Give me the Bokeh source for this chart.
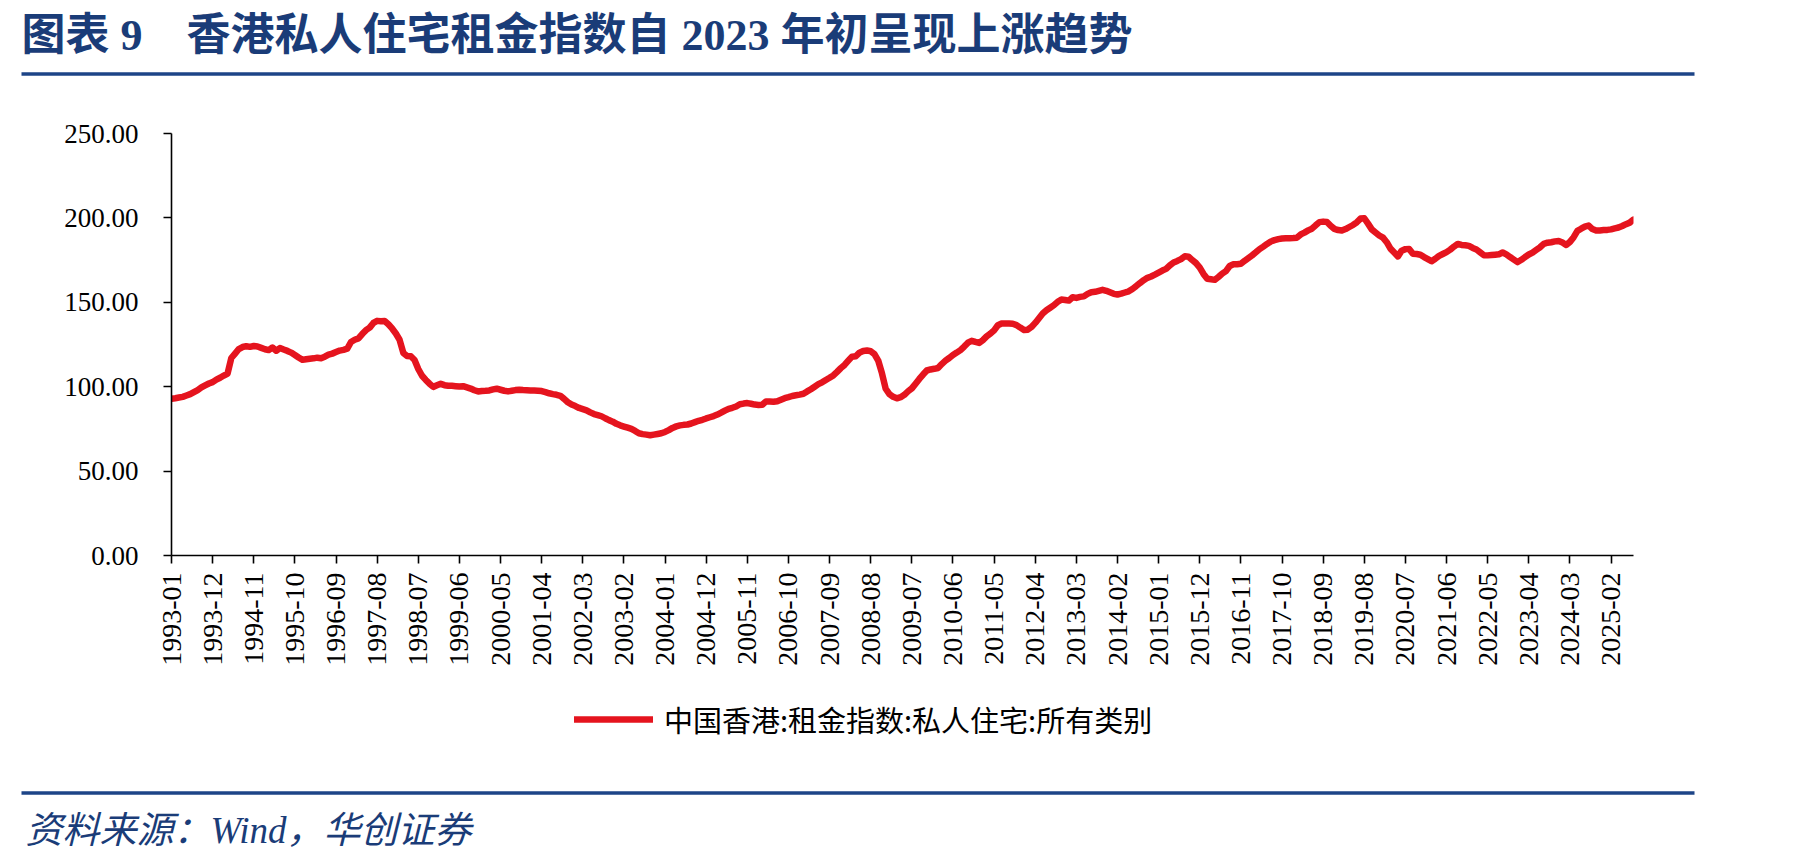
import math
from bokeh.plotting import figure
from bokeh.layouts import column
from bokeh.models import (Range1d, FixedTicker, Legend, LegendItem,
                          PrintfTickFormatter, ColumnDataSource)
from bokeh.core.properties import value
from bokeh.embed import file_html
from bokeh.resources import INLINE

# ---------------- data ----------------
months = [f"{y}-{m:02d}" for y in range(1993, 2026) for m in range(1, 13)][:392]

rent_index = [
    # 1993
    92.9, 93.2, 93.6, 94.0, 94.8, 95.6, 96.8, 98.0, 99.6, 100.8, 101.9, 102.7,
    # 1994
    104.2, 105.3, 106.6, 107.8, 117.0, 119.6, 122.3, 123.5, 124.0, 123.6, 124.1, 123.8,
    # 1995
    123.0, 122.2, 121.7, 123.2, 121.3, 122.9, 122.0, 121.2, 120.2, 118.8, 117.3, 115.9,
    # 1996
    116.3, 116.6, 116.8, 117.2, 116.9, 117.8, 119.0, 119.6, 120.5, 121.4, 121.8, 122.5,
    # 1997
    126.5, 127.8, 128.6, 131.2, 133.5, 135.0, 137.8, 139.0, 138.8, 138.9, 137.0, 134.5,
    # 1998
    131.5, 127.8, 120.0, 118.2, 118.0, 115.8, 110.5, 106.5, 104.0, 101.8, 99.9, 100.8,
    # 1999
    101.7, 100.9, 100.6, 100.5, 100.3, 100.1, 100.3, 99.6, 98.9, 97.9, 97.2, 97.5,
    # 2000
    97.6, 97.8, 98.4, 98.8, 98.2, 97.6, 97.2, 97.6, 98.0, 98.2, 98.0, 97.9,
    # 2001
    97.8, 97.7, 97.6, 97.4, 96.8, 96.1, 95.6, 95.2, 94.6, 92.8, 90.8, 89.4,
    # 2002
    88.5, 87.4, 86.7, 86.0, 84.8, 83.8, 83.2, 82.5, 81.3, 80.2, 79.3, 78.0,
    # 2003
    77.1, 76.4, 75.7, 75.0, 73.8, 72.4, 71.9, 71.6, 71.2, 71.6, 72.0, 72.4,
    # 2004
    73.2, 74.3, 75.6, 76.5, 77.1, 77.4, 77.6, 78.2, 79.0, 79.8, 80.4, 81.2,
    # 2005
    81.9, 82.6, 83.5, 84.6, 85.8, 86.9, 87.5, 88.3, 89.6, 90.0, 90.3, 89.9,
    # 2006
    89.4, 89.2, 89.3, 91.3, 91.2, 91.1, 91.4, 92.3, 93.2, 93.8, 94.5, 94.9,
    # 2007
    95.3, 95.8, 97.2, 98.5, 100.0, 101.5, 102.6, 104.0, 105.3, 106.7, 108.8, 111.0,
    # 2008
    112.9, 115.4, 117.8, 118.0, 120.2, 121.2, 121.5, 121.0, 119.3, 115.5, 108.0, 98.8,
    # 2009
    95.6, 94.0, 93.1, 93.8, 95.2, 97.3, 99.0, 101.8, 104.6, 107.2, 109.6, 110.2,
    # 2010
    110.6, 111.1, 113.4, 115.4, 117.0, 118.8, 120.2, 121.7, 123.8, 126.1, 127.2, 126.5,
    # 2011
    125.9, 127.6, 129.8, 131.4, 133.4, 136.4, 137.4, 137.5, 137.4, 137.3, 136.5, 135.0,
    # 2012
    133.6, 133.8, 135.4, 137.8, 140.6, 143.4, 145.3, 146.8, 148.3, 150.3, 151.6, 151.4,
    # 2013
    151.0, 153.0, 152.6, 153.2, 153.5, 155.0, 156.0, 156.2, 156.8, 157.4, 156.8, 155.9,
    # 2014
    155.0, 154.6, 155.1, 155.8, 156.5, 157.9, 159.6, 161.4, 163.1, 164.5, 165.3, 166.4,
    # 2015
    167.6, 168.8, 169.8, 171.9, 173.6, 174.5, 175.6, 177.3, 177.0, 175.0, 173.2, 170.6,
    # 2016
    166.8, 163.9, 163.6, 163.3, 165.0, 167.0, 168.5, 171.5, 172.5, 172.6, 172.8, 174.6,
    # 2017
    176.2, 177.8, 179.6, 181.5, 183.0, 184.6, 186.0, 186.8, 187.4, 187.8, 187.9, 188.0,
    # 2018
    188.1, 188.3, 190.2, 191.3, 192.6, 193.6, 195.6, 197.5, 197.8, 197.6, 195.3, 193.5,
    # 2019
    192.8, 192.5, 193.4, 194.6, 195.8, 197.4, 199.6, 199.8, 196.6, 193.2, 191.4, 189.6,
    # 2020
    188.3, 185.6, 181.8, 179.5, 177.2, 180.6, 181.5, 181.6, 178.8, 178.6, 178.2, 176.8,
    # 2021
    175.6, 174.3, 175.8, 177.5, 178.6, 179.7, 181.2, 183.0, 184.6, 184.0, 183.8, 183.4,
    # 2022
    182.2, 181.3, 179.6, 177.9, 177.8, 178.0, 178.2, 178.4, 179.5, 178.4, 176.8, 175.3,
    # 2023
    173.8, 175.2, 176.8, 178.3, 179.4, 181.0, 182.6, 184.6, 185.3, 185.6, 186.1, 186.3,
    # 2024
    185.4, 184.0, 185.8, 188.6, 192.3, 193.6, 194.8, 195.5, 193.4, 192.5, 192.6, 192.8,
    # 2025
    192.9, 193.2, 193.8, 194.3, 195.2, 196.3, 197.2, 199.0,
]

tick_labels = ["1993-01", "1993-12", "1994-11", "1995-10", "1996-09", "1997-08",
               "1998-07", "1999-06", "2000-05", "2001-04", "2002-03", "2003-02",
               "2004-01", "2004-12", "2005-11", "2006-10", "2007-09", "2008-08",
               "2009-07", "2010-06", "2011-05", "2012-04", "2013-03", "2014-02",
               "2015-01", "2015-12", "2016-11", "2017-10", "2018-09", "2019-08",
               "2020-07", "2021-06", "2022-05", "2023-04", "2024-03", "2025-02"]
y_ticks = [0, 50, 100, 150, 200, 250]

series_name = "中国香港:租金指数:私人住宅:所有类别"
title_text = "图表 9　香港私人住宅租金指数自 2023 年初呈现上涨趋势"
source_text = "资料来源：Wind，华创证券"

# ---------------- layout constants (canvas pixels) ----------------
W = 1801
TOP_H = 90          # title band: canvas 0..90
MAIN_H = 600        # chart band: canvas 90..690
BOT_H = 171         # legend + source band: canvas 690..861
FL, FR, FT, FB = 171, 1633, 133, 555   # plot frame in canvas pixels

navy = "#1A3C78"
rule = "#1D4487"
red = "#E5141E"
serif = "Liberation Serif, Times New Roman, serif"
cjk = "Liberation Serif, Noto Sans CJK SC"


def band(height, y0):
    f = figure(width=W, height=height, output_backend="svg", toolbar_location=None,
               x_range=Range1d(0, W), y_range=Range1d(y0 + height, y0),
               x_axis_location=None, y_axis_location=None,
               min_border=0, min_border_left=0, min_border_right=0,
               min_border_top=0, min_border_bottom=0, frame_align=False)
    f.outline_line_color = None
    f.grid.visible = False
    f.background_fill_color = "white"
    f.border_fill_color = "white"
    return f


# ---------------- title band ----------------
top = band(TOP_H, 0)
top.text(x=[21], y=[35], text=[title_text], text_baseline="middle",
         text_font=value(cjk), text_font_style="bold", text_font_size="44px",
         text_color=navy)
top.quad(left=[21], right=[1694], top=[71.7], bottom=[75.3],
         fill_color=rule, line_alpha=0)

# ---------------- main chart ----------------
p = figure(width=W, height=MAIN_H, output_backend="svg", toolbar_location=None,
           x_range=Range1d(0, len(months) - 1), y_range=Range1d(0, 250),
           min_border_left=FL, min_border_right=W - FR,
           min_border_top=FT - TOP_H, min_border_bottom=TOP_H + MAIN_H - FB,
           frame_align=False)
p.outline_line_color = None
p.grid.visible = False
p.background_fill_color = "white"
p.border_fill_color = "white"

src = ColumnDataSource(data=dict(x=list(range(len(rent_index))), y=rent_index))
r = p.line(x="x", y="y", source=src, line_color=red, line_width=6.5,
           line_join="round", line_cap="round")

yax = p.yaxis[0]
yax.ticker = FixedTicker(ticks=y_ticks)
yax.formatter = PrintfTickFormatter(format="%.2f")
yax.major_label_text_font = serif
yax.major_label_text_font_size = "27px"
yax.major_label_text_color = "black"
yax.major_tick_out = 8
yax.major_tick_in = 0
yax.minor_tick_out = 0
yax.minor_tick_in = 0
yax.major_label_standoff = 25
yax.axis_line_color = "black"
yax.axis_line_width = 1.6
yax.major_tick_line_color = "black"
yax.major_tick_line_width = 1.6

xax = p.xaxis[0]
tick_pos = [months.index(t) for t in tick_labels]
xax.ticker = FixedTicker(ticks=tick_pos)
xax.major_label_overrides = {pos: lab for pos, lab in zip(tick_pos, tick_labels)}
xax.major_label_orientation = math.pi / 2
xax.major_label_text_font = serif
xax.major_label_text_font_size = "28px"
xax.major_label_text_color = "black"
xax.major_tick_out = 8
xax.major_tick_in = 0
xax.minor_tick_out = 0
xax.minor_tick_in = 0
xax.major_label_standoff = 9
xax.axis_line_color = "black"
xax.axis_line_width = 1.6
xax.major_tick_line_color = "black"
xax.major_tick_line_width = 1.6

# ---------------- legend + source band ----------------
bot = band(BOT_H, TOP_H + MAIN_H)
# hidden copy of the series so the legend swatch carries the line style
ghost = bot.line(x="x", y="y", source=src, line_color=red, line_width=6.5,
                 line_cap="round")
ghost.visible = False
legend = Legend(items=[LegendItem(label=series_name, renderers=[ghost])],
                location=(574, TOP_H + MAIN_H + BOT_H - 740),
                orientation="horizontal",
                glyph_width=79, glyph_height=30, label_height=30,
                label_standoff=11, padding=0, margin=0, spacing=0,
                border_line_alpha=0, background_fill_alpha=0,
                inactive_fill_alpha=0,
                label_text_font="Noto Sans CJK SC", label_text_font_size="29px",
                label_text_color="black", label_text_baseline="middle")
bot.add_layout(legend, "center")

bot.quad(left=[21], right=[1694], top=[790.7], bottom=[794.3],
         fill_color=rule, line_alpha=0)
bot.text(x=[25], y=[830], text=[source_text], text_baseline="middle",
         text_font=value(cjk), text_font_style="italic", text_font_size="37px",
         text_color=navy)

layout = column(top, p, bot, spacing=0)
open("out.html", "w").write(file_html(layout, INLINE))
